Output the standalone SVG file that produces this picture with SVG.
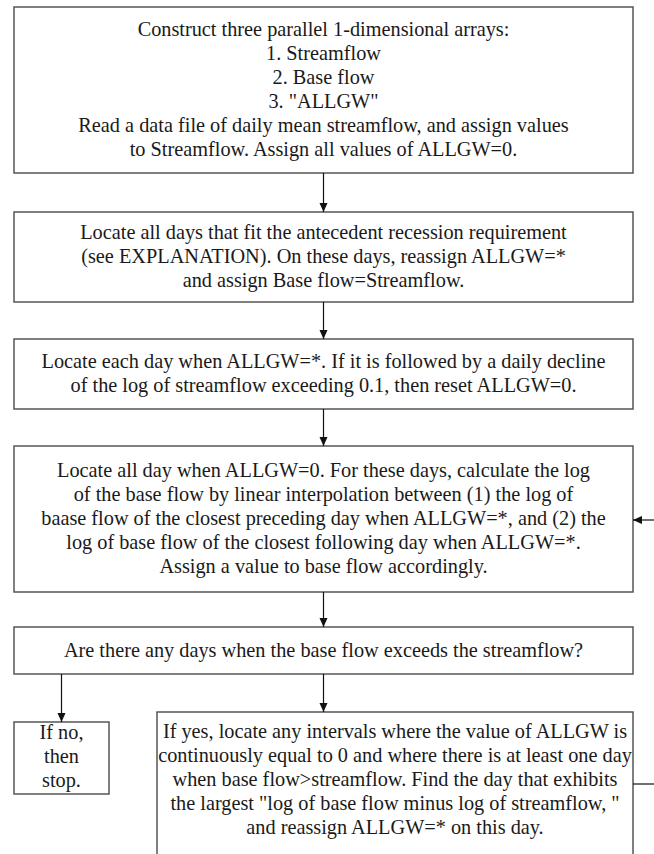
<svg xmlns="http://www.w3.org/2000/svg" width="654" height="854" viewBox="0 0 654 854">
<style>
.box{fill:#fff;stroke:#555;stroke-width:1.5}
.t{font-family:"Liberation Serif","Times New Roman",serif;font-size:20.3px;fill:#1a1a1a;text-anchor:middle}
.c{stroke:#111;stroke-width:1.2;fill:none}
</style>
<defs>
<marker id="ah" markerWidth="10" markerHeight="10" refX="9" refY="5" orient="auto" markerUnits="userSpaceOnUse">
<path d="M0,1 L9,5 L0,9 Z" fill="#111"/>
</marker>
</defs>
<rect width="654" height="854" fill="#fff"/>
<g id="n1">
<rect class="box" x="14" y="7" width="619" height="166"/>
<text class="t" x="323.5" y="36">Construct three parallel 1-dimensional arrays:</text>
<text class="t" x="323.5" y="60">1. Streamflow</text>
<text class="t" x="323.5" y="84">2. Base flow</text>
<text class="t" x="323.5" y="108">3. "ALLGW"</text>
<text class="t" x="323.5" y="132">Read a data file of daily mean streamflow, and assign values</text>
<text class="t" x="323.5" y="156">to Streamflow. Assign all values of ALLGW=0.</text>
</g>
<g id="n2">
<rect class="box" x="14" y="212" width="619" height="90"/>
<text class="t" x="323.5" y="239">Locate all days that fit the antecedent recession requirement</text>
<text class="t" x="323.5" y="263">(see EXPLANATION). On these days, reassign ALLGW=*</text>
<text class="t" x="323.5" y="287">and assign Base flow=Streamflow.</text>
</g>
<g id="n3">
<rect class="box" x="14" y="339" width="619" height="70"/>
<text class="t" x="323.5" y="368">Locate each day when ALLGW=*. If it is followed by a daily decline</text>
<text class="t" x="323.5" y="392">of the log of streamflow exceeding 0.1, then reset ALLGW=0.</text>
</g>
<g id="n4">
<rect class="box" x="14" y="446" width="619" height="146"/>
<text class="t" x="323.5" y="477">Locate all day when ALLGW=0. For these days, calculate the log</text>
<text class="t" x="323.5" y="501">of the base flow by linear interpolation between (1) the log of</text>
<text class="t" x="323.5" y="525">baase flow of the closest preceding day when ALLGW=*, and (2) the</text>
<text class="t" x="323.5" y="549">log of base flow of the closest following day when ALLGW=*.</text>
<text class="t" x="323.5" y="573">Assign a value to base flow accordingly.</text>
</g>
<g id="n5">
<rect class="box" x="14" y="627" width="619" height="47"/>
<text class="t" x="323.5" y="657">Are there any days when the base flow exceeds the streamflow?</text>
</g>
<g id="n6">
<rect class="box" x="14" y="722" width="95" height="72"/>
<text class="t" x="61.5" y="739">If no,</text>
<text class="t" x="61.5" y="763">then</text>
<text class="t" x="61.5" y="787">stop.</text>
</g>
<g id="n7">
<rect class="box" x="157" y="712" width="476" height="160"/>
<text class="t" x="395" y="738">If yes, locate any intervals where the value of ALLGW is</text>
<text class="t" x="395" y="762">continuously equal to 0 and where there is at least one day</text>
<text class="t" x="395" y="786">when base flow&gt;streamflow. Find the day that exhibits</text>
<text class="t" x="395" y="810">the largest "log of base flow minus log of streamflow, "</text>
<text class="t" x="395" y="834">and reassign ALLGW=* on this day.</text>
</g>
<g id="connectors">
<line class="c" x1="323.5" y1="173" x2="323.5" y2="212" marker-end="url(#ah)"/>
<line class="c" x1="323.5" y1="302" x2="323.5" y2="339" marker-end="url(#ah)"/>
<line class="c" x1="323.5" y1="409" x2="323.5" y2="446" marker-end="url(#ah)"/>
<line class="c" x1="323.5" y1="592" x2="323.5" y2="627" marker-end="url(#ah)"/>
<line class="c" x1="61.5" y1="674" x2="61.5" y2="722" marker-end="url(#ah)"/>
<line class="c" x1="323.5" y1="674" x2="323.5" y2="712" marker-end="url(#ah)"/>
<line class="c" x1="654" y1="520" x2="633" y2="520" marker-end="url(#ah)"/>
<line class="c" x1="633" y1="784" x2="654" y2="784"/>
</g>
</svg>
